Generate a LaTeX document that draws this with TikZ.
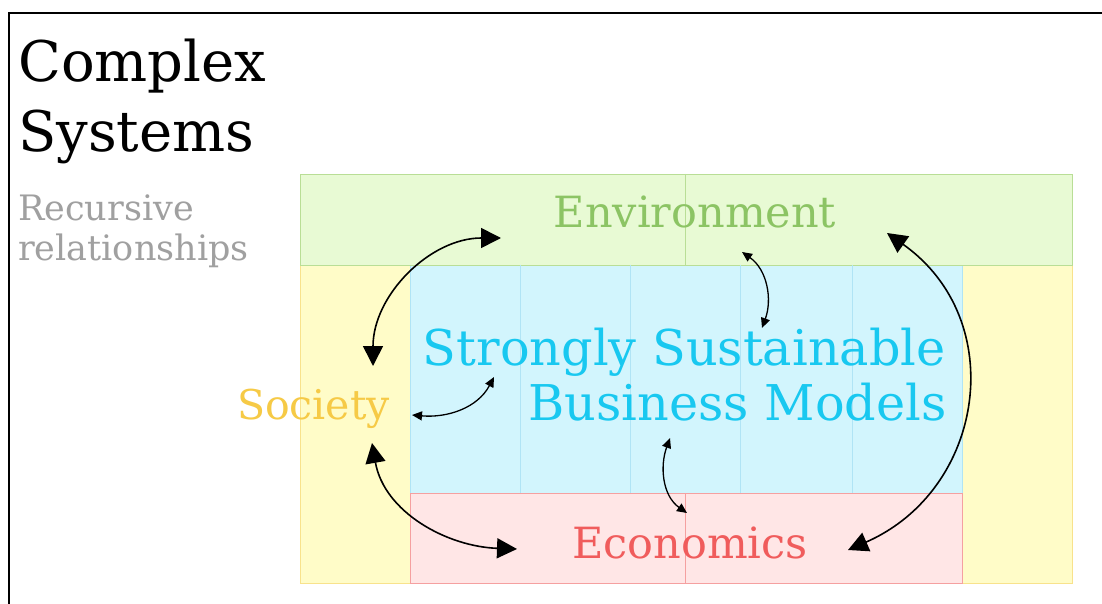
\documentclass[tikz,border=0pt]{standalone}
\usepackage{fontspec}
\setmainfont{DejaVu Serif}
\usetikzlibrary{arrows.meta}

\definecolor{envfill}{RGB}{232,250,212}
\definecolor{envline}{RGB}{185,222,150}
\definecolor{envtext}{RGB}{140,196,100}
\definecolor{socfill}{RGB}{255,252,200}
\definecolor{socline}{RGB}{248,226,140}
\definecolor{soctext}{RGB}{246,202,70}
\definecolor{sbmfill}{RGB}{210,245,253}
\definecolor{sbmline}{RGB}{176,228,245}
\definecolor{sbmtext}{RGB}{24,200,240}
\definecolor{ecofill}{RGB}{255,230,230}
\definecolor{ecoline}{RGB}{245,160,160}
\definecolor{ecotext}{RGB}{240,92,92}
\definecolor{subtext}{RGB}{160,160,160}

\begin{document}
\begin{tikzpicture}[
  x=1pt, y=-1pt,
  area/.style={draw, line width=1pt, inner sep=0pt, anchor=north west},
  heading/.style={inner sep=0pt, anchor=base west, font=\fontsize{56}{60}\selectfont},
  subheading/.style={inner sep=0pt, anchor=base west, text=subtext, font=\fontsize{35}{38}\selectfont},
  areatext/.style={inner sep=0pt, font=\fontsize{43}{48}\selectfont},
  gridline/.style={line width=0.8pt},
  twoway/.style={{Triangle[length=20pt,width=20pt]}-{Triangle[length=20pt,width=20pt]}, line width=1.6pt},
  twowaysmall/.style={{Triangle[length=10pt,width=9pt]}-{Triangle[length=10pt,width=9pt]}, line width=1.3pt}
]
\useasboundingbox (0,0) rectangle (1102,604);
\fill[white] (0,0) rectangle (1102,604);
\draw[line width=2pt] (9,604) -- (9,13) -- (1102,13);

% areas
\node[area, draw=socline, fill=socfill, minimum width=772pt, minimum height=318pt] (society) at (300,265) {};
\node[area, draw=sbmline, fill=sbmfill, minimum width=552pt, minimum height=228pt] (sbm) at (410,265) {};
\node[area, draw=ecoline, fill=ecofill, minimum width=552pt, minimum height=90pt] (economics) at (410,493) {};
\node[area, draw=envline, fill=envfill, minimum width=772pt, minimum height=91pt] (environment) at (300,174) {};
\foreach \x in {520,630,740,852}
  \draw[gridline, sbmline] (\x,265) -- (\x,493);
\draw[gridline, envline] (685,174) -- (685,265);
\draw[gridline, ecoline] (685,493) -- (685,583);

% texts
\node[heading] (title1) at (18,82) {Complex};
\node[heading] (title2) at (18,152) {Systems};
\node[subheading] (sub1) at (18,220) {Recursive};
\node[subheading] (sub2) at (18,260) {relationships};
\node[areatext, text=envtext, anchor=base] (envlabel) at (695,227) {Environment};
\node[areatext, text=soctext, anchor=base east, font=\fontsize{41}{46}\selectfont] (soclabel) at (390,419) {Society};
\node[areatext, text=sbmtext, anchor=base east, font=\fontsize{49.3}{55}\selectfont] (sbm1) at (946,365) {Strongly Sustainable};
\node[areatext, text=sbmtext, anchor=base east, font=\fontsize{49.3}{55}\selectfont] (sbm2) at (947,420) {Business Models};
\node[areatext, text=ecotext, anchor=base] (ecolabel) at (690,558) {Economics};

% arrow ends
\coordinate (soc-n) at (373,366);
\coordinate (env-w) at (501,238);
\coordinate (soc-s) at (372,443);
\coordinate (eco-w) at (517,549);
\coordinate (soc-e) at (412,415);
\coordinate (sbm-w) at (494,377);
\coordinate (env-s) at (742,252);
\coordinate (sbm-n) at (762,328);
\coordinate (sbm-s) at (670,438);
\coordinate (eco-n) at (687,513);
\coordinate (env-e) at (887,233);
\coordinate (eco-e) at (848,550);

\draw[twoway] (soc-n) to[out=90,in=180] (env-w);
\draw[twoway] (soc-s) to[out=-80,in=178] (eco-w);
\draw[twoway] (env-e) .. controls +(123,87) and +(137,-60) .. (eco-e);
\draw[twowaysmall] (soc-e) to[out=-5,in=-118] (sbm-w);
\draw[twowaysmall] (env-s) to[out=-35,in=70] (sbm-n);
\draw[twowaysmall] (sbm-s) to[out=-110,in=145] (eco-n);
\end{tikzpicture}
\end{document}
